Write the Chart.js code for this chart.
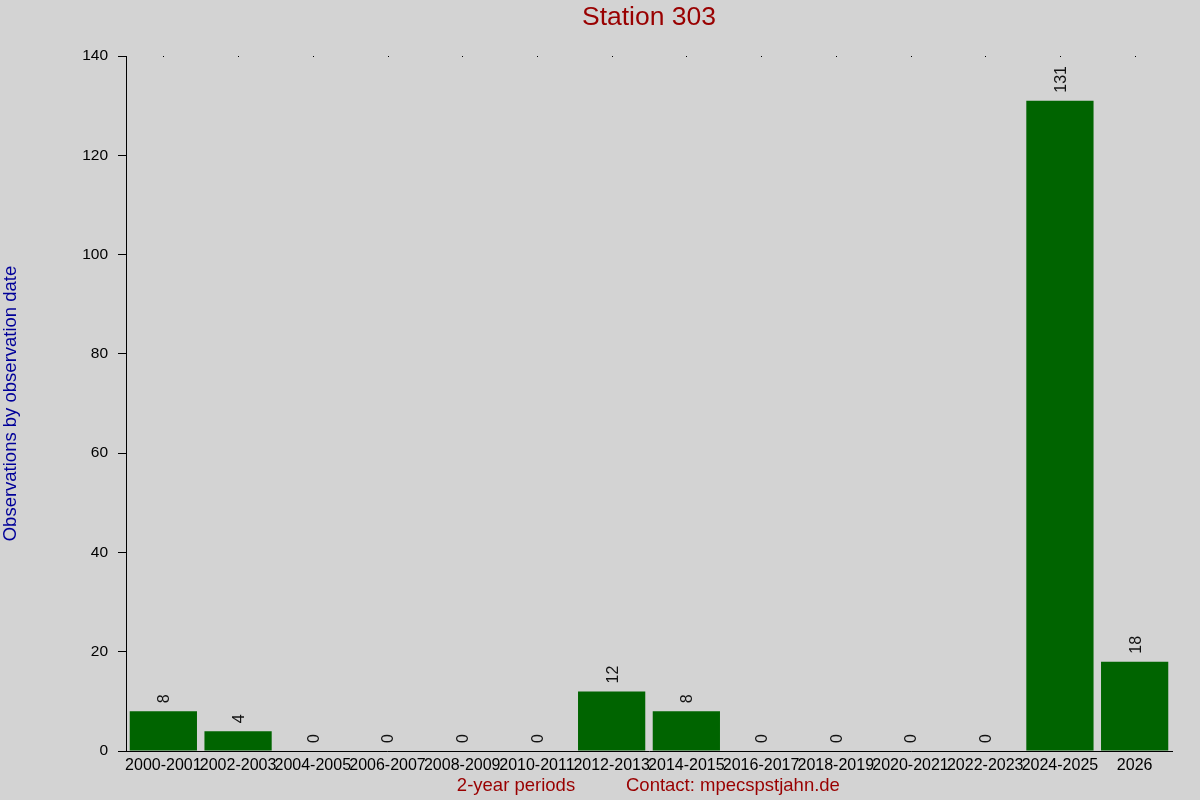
<!DOCTYPE html>
<html>
<head>
<meta charset="utf-8">
<script src="https://cdn.jsdelivr.net/npm/chart.js@4"></script>
<style>
  html, body { margin: 0; padding: 0; background: #d3d3d3; }
  #wrap { width: 1200px; height: 800px; }
</style>
</head>
<body>
<div id="wrap"><canvas id="chart"></canvas></div>
<script>
const periods = ['2000-2001', '2002-2003', '2004-2005', '2006-2007', '2008-2009', '2010-2011',
  '2012-2013', '2014-2015', '2016-2017', '2018-2019', '2020-2021', '2022-2023', '2024-2025', '2026'];
const counts = [8, 4, 0, 0, 0, 0, 12, 8, 0, 0, 0, 0, 131, 18];
const yTicks = [0, 20, 40, 60, 80, 100, 120, 140];

const FONT = "'Liberation Sans', Arial, sans-serif";

// value labels, top dots and the free texts
const extras = {
  id: 'extras',
  afterDatasetsDraw(chart) {
    const ctx = chart.ctx;
    const x = chart.scales.x, y = chart.scales.y;
    const meta = chart.getDatasetMeta(0);
    ctx.save();
    // small dots on the top line
    ctx.fillStyle = '#000';
    periods.forEach((p, i) => {
      ctx.fillRect(Math.round(x.getPixelForValue(i)), Math.round(y.getPixelForValue(140)), 1, 1);
    });
    // rotated value labels
    ctx.font = '16px ' + FONT;
    ctx.fillStyle = '#111';
    ctx.textAlign = 'left';
    ctx.textBaseline = 'middle';
    meta.data.forEach((bar, i) => {
      ctx.save();
      ctx.translate(bar.x + 1.5, bar.y - 8);
      ctx.rotate(-Math.PI / 2);
      ctx.fillText(String(counts[i]), 0, 0);
      ctx.restore();
    });
    // title
    ctx.fillStyle = '#990000';
    ctx.font = '26.5px ' + FONT;
    ctx.textAlign = 'center';
    ctx.fillText('Station 303', (chart.chartArea.left + chart.chartArea.right) / 2, 18);
    // bottom texts
    ctx.font = '18.5px ' + FONT;
    ctx.fillText('2-year periods', 516, 786);
    ctx.textAlign = 'left';
    ctx.fillText('Contact: mpecspstjahn.de', 626, 786);
    // y title
    ctx.fillStyle = '#000099';
    ctx.translate(11, (chart.chartArea.top + chart.chartArea.bottom) / 2);
    ctx.rotate(-Math.PI / 2);
    ctx.textAlign = 'center';
    ctx.fillText('Observations by observation date', 0, 0);
    ctx.restore();
  }
};

new Chart(document.getElementById('chart'), {
  type: 'bar',
  data: {
    labels: periods,
    datasets: [{
      data: counts,
      backgroundColor: '#006400',
      borderWidth: 0,
      barPercentage: 0.9,
      categoryPercentage: 1.0
    }]
  },
  options: {
    responsive: true,
    maintainAspectRatio: false,
    animation: false,
    layout: { padding: { top: 56, right: 28, left: 0, bottom: 0 } },
    plugins: { legend: { display: false }, tooltip: { enabled: false } },
    scales: {
      x: {
        grid: { display: false, drawTicks: false },
        border: { display: true, color: '#000', width: 1 },
        ticks: {
          color: '#000', font: { family: FONT, size: 16 },
          autoSkip: false, maxRotation: 0, minRotation: 0, padding: 5
        },
        afterFit(scale) { scale.height = 49; }
      },
      y: {
        min: 0, max: 140,
        afterBuildTicks(scale) { scale.ticks = yTicks.map(v => ({ value: v })); },
        grid: { drawOnChartArea: false, drawTicks: true, tickLength: 8, color: '#000' },
        border: { display: true, color: '#000', width: 1 },
        ticks: { color: '#000', font: { family: FONT, size: 15.5 }, padding: 10 },
        afterFit(scale) { scale.width = 126; }
      }
    }
  },
  plugins: [extras]
});
</script>
</body>
</html>
